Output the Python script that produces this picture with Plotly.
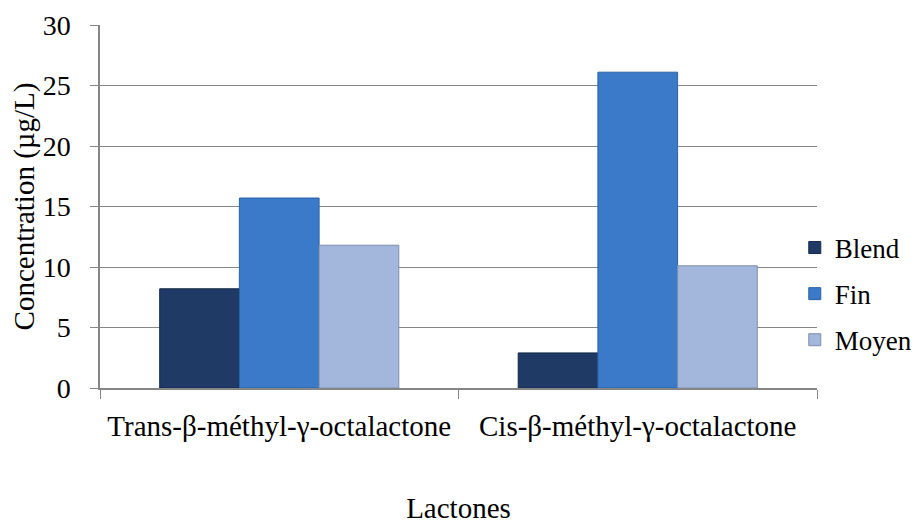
import plotly.graph_objects as go

categories = ["Trans-β-méthyl-γ-octalactone", "Cis-β-méthyl-γ-octalactone"]
series_names = ["Blend", "Fin", "Moyen"]
blend = [8.2, 2.9]
fin = [15.7, 26.1]
moyen = [11.8, 10.1]
y_ticks = [0, 5, 10, 15, 20, 25, 30]

colors = {"Blend": "#1F3A64", "Fin": "#3A7AC8", "Moyen": "#A3B6DB"}
edges = {"Blend": "#15294A", "Fin": "#2D62A6", "Moyen": "#7F8FAE"}
values = {"Blend": blend, "Fin": fin, "Moyen": moyen}

FONT = "Liberation Serif, Times New Roman, serif"

fig = go.Figure()
for name in series_names:
    fig.add_trace(go.Bar(
        x=categories, y=values[name], name=name, legendgroup=name,
        marker=dict(color=colors[name], line=dict(color=edges[name], width=1)),
    ))

fig.update_layout(
    width=915, height=516,
    margin=dict(l=92, r=106, t=17, b=136, autoexpand=False),
    paper_bgcolor="white", plot_bgcolor="white",
    barmode="group", bargap=0.333, bargroupgap=0,
    font=dict(family=FONT, size=28, color="black"),
    showlegend=True,
    legend=dict(x=0.969, xanchor="left", y=0.259, yanchor="middle",
                font=dict(family=FONT, size=27), tracegroupgap=8,
                bgcolor="rgba(0,0,0,0)", itemwidth=30),
)
fig.update_xaxes(
    automargin=False,
    showline=True, linecolor="#868686", linewidth=1.5,
    ticks="outside", tickson="boundaries", ticklen=9, tickcolor="#868686",
    tickfont=dict(family=FONT, size=29),
    ticklabelstandoff=11,
    title=dict(text="Lactones", font=dict(family=FONT, size=29), standoff=66),
    showgrid=False,
)
fig.update_yaxes(
    automargin=False,
    range=[0, 30], tickvals=y_ticks, ticktext=[str(v) for v in y_ticks],
    showline=True, linecolor="#868686", linewidth=1.5,
    ticks="outside", ticklen=8, tickcolor="#868686",
    showgrid=True, gridcolor="#868686", gridwidth=1, zeroline=False,
    tickfont=dict(family=FONT, size=28),
    ticklabelstandoff=14,
    title=dict(text="Concentration (µg/L)", font=dict(family=FONT, size=29), standoff=3),
)

fig.write_html("out.html")
